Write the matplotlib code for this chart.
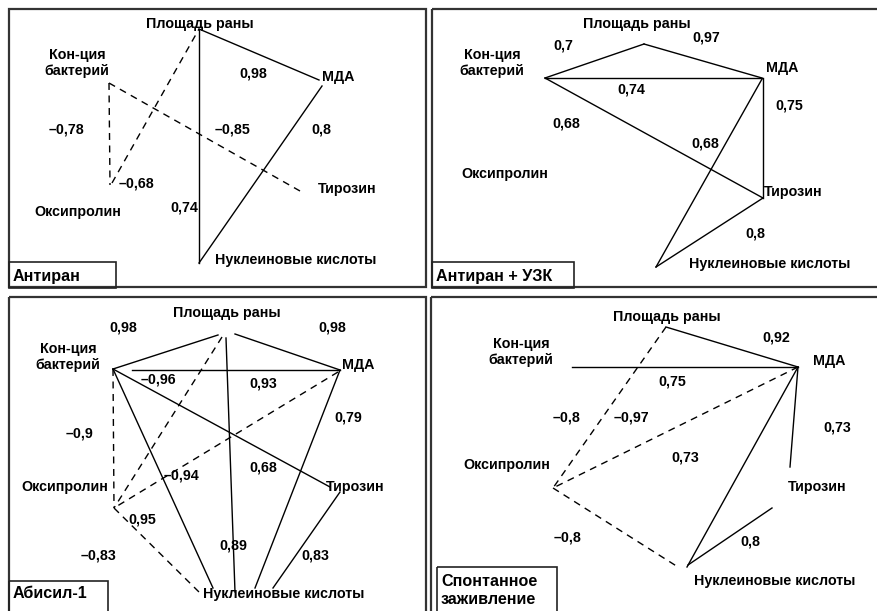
import matplotlib
matplotlib.use("Agg")
import matplotlib.pyplot as plt
from matplotlib.patches import Rectangle

plt.rcParams["font.family"] = ["Liberation Sans", "DejaVu Sans"]

TITLES = ["Антиран", "Антиран + УЗК", "Абисил-1", "Спонтанное\nзаживление"]

# correlation edges per group: (node a, node b, r)
EDGES = [
    [("Площадь раны", "МДА", 0.98), ("Площадь раны", "Нуклеиновые кислоты", 0.74),
     ("МДА", "Нуклеиновые кислоты", 0.8), ("Кон-ция\nбактерий", "Тирозин", -0.85),
     ("Кон-ция\nбактерий", "Оксипролин", -0.78), ("Оксипролин", "Площадь раны", -0.68)],
    [("Кон-ция\nбактерий", "Площадь раны", 0.7), ("Площадь раны", "МДА", 0.97),
     ("Кон-ция\nбактерий", "МДА", 0.74), ("Кон-ция\nбактерий", "Тирозин", 0.68),
     ("МДА", "Нуклеиновые кислоты", 0.68), ("МДА", "Тирозин", 0.75),
     ("Тирозин", "Нуклеиновые кислоты", 0.8)],
    [("Кон-ция\nбактерий", "Площадь раны", 0.98), ("Площадь раны", "МДА", 0.98),
     ("Кон-ция\nбактерий", "МДА", 0.93), ("Кон-ция\nбактерий", "Оксипролин", -0.9),
     ("Площадь раны", "Оксипролин", -0.96), ("МДА", "Оксипролин", -0.94),
     ("Кон-ция\nбактерий", "Тирозин", 0.68), ("Кон-ция\nбактерий", "Нуклеиновые кислоты", 0.95),
     ("Площадь раны", "Нуклеиновые кислоты", 0.89), ("МДА", "Нуклеиновые кислоты", 0.79),
     ("Тирозин", "Нуклеиновые кислоты", 0.83), ("Оксипролин", "Нуклеиновые кислоты", -0.83)],
    [("Площадь раны", "МДА", 0.92), ("Кон-ция\nбактерий", "МДА", 0.75),
     ("Площадь раны", "Оксипролин", -0.8), ("МДА", "Оксипролин", -0.97),
     ("МДА", "Нуклеиновые кислоты", 0.73), ("МДА", "Тирозин", 0.73),
     ("Оксипролин", "Нуклеиновые кислоты", -0.8), ("Нуклеиновые кислоты", "Тирозин", 0.8)],
]

# ---- layout (pixel coordinates, y down) ----
FRAMES = [(9, 9, 426, 287), (432, 9, 880, 287), (9, 297, 426, 615), (431, 297, 880, 615)]
TITLE_BOX = [(9, 262, 116, 288), (432, 262, 574, 288), (9, 581, 108, 615), (437, 567, 557, 615)]
TITLE_XY = [(13, 276), (436, 276), (13, 594), (441, 590)]

NAME_XY = [
    {"Площадь раны": (200, 24), "МДА": (338, 77), "Кон-ция\nбактерий": (77, 63),
     "Оксипролин": (78, 212), "Тирозин": (347, 189), "Нуклеиновые кислоты": (296, 260)},
    {"Площадь раны": (637, 24), "МДА": (782, 68), "Кон-ция\nбактерий": (492, 63),
     "Оксипролин": (505, 174), "Тирозин": (793, 192), "Нуклеиновые кислоты": (770, 264)},
    {"Площадь раны": (227, 313), "МДА": (358, 365), "Кон-ция\nбактерий": (68, 357),
     "Оксипролин": (65, 487), "Тирозин": (355, 487), "Нуклеиновые кислоты": (284, 594)},
    {"Площадь раны": (667, 317), "МДА": (829, 361), "Кон-ция\nбактерий": (521, 352),
     "Оксипролин": (507, 465), "Тирозин": (817, 487), "Нуклеиновые кислоты": (775, 581)},
]

# line end points for each edge, same order as EDGES
ENDS = [
    [((199, 29), (319, 80)), ((199, 29), (199, 263)), ((322, 86), (199, 263)),
     ((109, 83), (300, 191)), ((109, 83), (110, 185)), ((112, 183), (199, 29))],
    [((545, 78), (644, 44)), ((644, 44), (762, 78)), ((545, 78), (762, 78)),
     ((545, 78), (763, 198)), ((762, 79), (656, 267)), ((763, 78), (763, 198)),
     ((763, 198), (656, 267))],
    [((113, 369), (218, 335)), ((235, 334), (340, 370)), ((132, 370), (340, 370)),
     ((113, 369), (114, 508)), ((222, 337), (114, 508)), ((338, 372), (114, 508)),
     ((113, 369), (330, 487)), ((113, 369), (213, 588)), ((226, 338), (235, 592)),
     ((340, 370), (255, 588)), ((340, 492), (273, 588)), ((114, 508), (200, 593))],
    [((666, 327), (798, 367)), ((572, 367), (798, 367)), ((666, 327), (553, 488)),
     ((798, 367), (553, 488)), ((798, 367), (687, 567)), ((798, 367), (790, 467)),
     ((553, 488), (678, 567)), ((688, 565), (772, 508))],
]

# where each r value is written, same order as EDGES
R_XY = [
    [(253, 73), (184, 207), (321, 130), (233, 130), (67, 130), (137, 183)],
    [(563, 46), (706, 38), (631, 89), (566, 123), (705, 143), (789, 106), (755, 234)],
    [(123, 328), (332, 328), (263, 384), (80, 433), (158, 379), (182, 476),
     (263, 468), (142, 520), (233, 546), (348, 418), (315, 555), (99, 555)],
    [(776, 338), (672, 382), (567, 418), (631, 418), (685, 458), (837, 427),
     (568, 538), (750, 542)],
]


def fmt(r):
    s = f"{abs(r):.2f}".rstrip("0").replace(".", ",")
    return ("\u2013" if r < 0 else "") + s


fig = plt.figure(figsize=(8.78, 6.11), dpi=100)
ax = fig.add_axes([0, 0, 1, 1])
ax.set_xlim(0, 878)
ax.set_ylim(611, 0)
ax.axis("off")

for k in range(4):
    x0, y0, x1, y1 = FRAMES[k]
    ax.add_patch(Rectangle((x0, y0), x1 - x0, y1 - y0, fill=False, ec="#333333", lw=1.6))
    x0, y0, x1, y1 = TITLE_BOX[k]
    ax.add_patch(Rectangle((x0, y0), x1 - x0, y1 - y0, fill=False, ec="#222222", lw=1.2))
    ax.text(*TITLE_XY[k], TITLES[k], ha="left", va="center", fontsize=11.6,
            fontweight="bold", linespacing=1.25)

    for name, (x, y) in NAME_XY[k].items():
        ax.text(x, y, name, ha="center", va="center", fontsize=10.3, fontweight="bold",
                linespacing=1.25)

    for (a, b, r), (p, q), (tx, ty) in zip(EDGES[k], ENDS[k], R_XY[k]):
        ls = (0, (5, 4)) if r < 0 else "-"
        ax.plot([p[0], q[0]], [p[1], q[1]], color="black", lw=1.0, ls=ls)
        ax.text(tx, ty, fmt(r), ha="center", va="center", fontsize=10.3, fontweight="bold")

fig.savefig("out.png", dpi=100)
